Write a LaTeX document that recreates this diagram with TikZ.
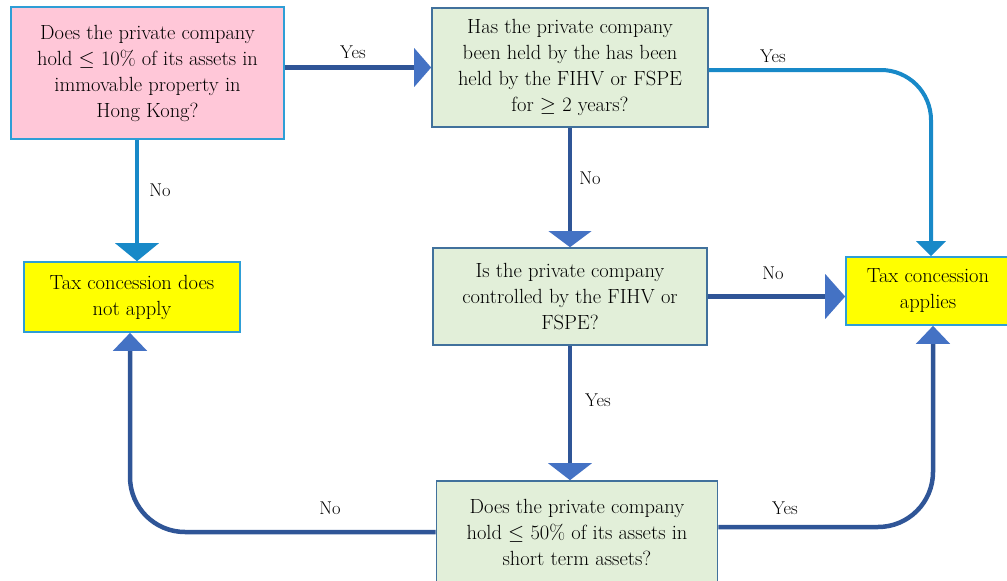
\documentclass[tikz,border=0pt]{standalone}
\usetikzlibrary{arrows.meta}
\definecolor{pinkfill}{RGB}{255,199,216}
\definecolor{greenfill}{RGB}{226,239,217}
\definecolor{yellowfill}{RGB}{255,255,0}
\definecolor{lightborder}{RGB}{46,158,214}
\definecolor{darkborder}{RGB}{65,113,156}
\definecolor{lightline}{RGB}{24,137,200}
\definecolor{darkline}{RGB}{47,85,151}
\definecolor{darkhead}{RGB}{68,114,196}
\begin{document}
\begin{tikzpicture}[x=1pt,y=-1pt,
  box/.style={draw, line width=1.6pt, align=center, inner sep=0pt,
    font=\rmfamily\fontsize{20.5}{26}\selectfont},
  pinkbox/.style={box, fill=pinkfill, draw=lightborder},
  greenbox/.style={box, fill=greenfill, draw=darkborder},
  yellowbox/.style={box, fill=yellowfill, draw=lightborder},
  lbl/.style={font=\rmfamily\fontsize{18.5}{20}\selectfont, inner sep=0pt},
  darkarrow/.style={draw=darkline, line width=4.5pt},
  lightarrow/.style={draw=lightline, line width=4pt}
]
\useasboundingbox (0,0) rectangle (1007,581);

\node[pinkbox, minimum width=273pt, minimum height=132pt] (A) at (147.5,73)
  {Does the private company\\hold $\le$ 10\% of its assets in\\immovable property in\\Hong Kong?};
\node[greenbox, minimum width=276pt, minimum height=119pt] (B) at (570,67.5)
  {Has the private company\\been held by the has been\\held by the FIHV or FSPE\\for $\ge$ 2 years?};
\node[greenbox, minimum width=274pt, minimum height=97pt] (C) at (570,296.5)
  {Is the private company\\controlled by the FIHV or\\FSPE?};
\node[greenbox, minimum width=281pt, minimum height=102pt] (D) at (577,532)
  {Does the private company\\hold $\le$ 50\% of its assets in\\short term assets?};
\node[yellowbox, minimum width=216pt, minimum height=70pt] (E) at (132,297)
  {Tax concession does\\not apply};
\node[yellowbox, minimum width=164pt, minimum height=68pt] (F) at (928,291)
  {Tax concession\\applies};

% A -> B
\draw[darkarrow, -{Triangle[length=17pt,width=38pt,color=darkhead]}]
  (B.west -| A.east) -- (B.west);
\node[lbl] (l1) at (353,52) {Yes};
% A -> E
\draw[lightarrow, -{Triangle[length=18pt,width=43pt,color=lightline]}]
  ([xshift=-10.5pt]A.south) -- ([xshift=-10.5pt]A.south |- E.north);
\node[lbl] (l2) at (160,190) {No};
% B -> F
\draw[lightarrow, rounded corners=50pt, -{Triangle[length=15pt,width=29pt,color=lightline]}]
  ([yshift=-2.5pt]B.east) -| ([xshift=3pt]F.north);
\node[lbl] (l3) at (773,56) {Yes};
% B -> C
\draw[darkarrow, -{Triangle[length=16pt,width=42pt,color=darkhead]}]
  (B.south) -- (C.north);
\node[lbl] (l4) at (590,178) {No};
% C -> F
\draw[darkarrow, -{Triangle[length=20pt,width=44pt,color=darkhead]}]
  (C.east) -- (C.east -| F.west);
\node[lbl] (l5) at (773,273) {No};
% C -> D
\draw[darkarrow, -{Triangle[length=17pt,width=43pt,color=darkhead]}]
  (C.south) -- (C.south |- D.north);
\node[lbl] (l6) at (598,400) {Yes};
% D -> E
\draw[darkarrow, rounded corners=55pt, -{Triangle[length=18pt,width=33pt,color=darkhead]}]
  (D.west) -| ([xshift=-2pt]E.south);
\node[lbl] (l7) at (330,508) {No};
% D -> F
\draw[darkarrow, rounded corners=55pt, -{Triangle[length=18pt,width=33pt,color=darkhead]}]
  ([yshift=5pt]D.east) -| ([xshift=5pt]F.south);
\node[lbl] (l8) at (785,508) {Yes};
\end{tikzpicture}
\end{document}
